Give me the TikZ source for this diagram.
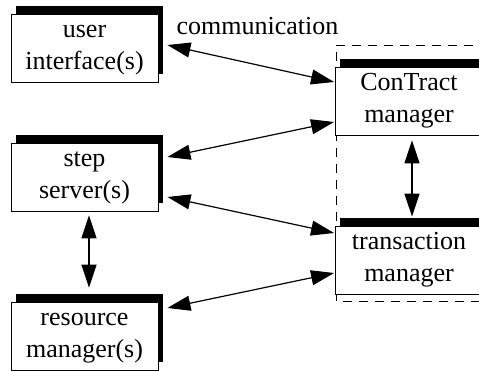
\documentclass[tikz,border=0pt]{standalone}
\usepackage{fontspec}
\setmainfont{Liberation Serif}
\usetikzlibrary{arrows.meta,shadows}
\begin{document}
\begin{tikzpicture}[x=1pt, y=1pt,
  modbox/.style={draw, fill=white, line width=0.9pt, minimum width=147pt, minimum height=68pt,
    align=center, inner sep=0pt, font=\fontsize{26}{32}\selectfont,
    text height=50pt, text depth=6pt,
    drop shadow={shadow xshift=4.5pt, shadow yshift=8pt, fill=black, opacity=1}},
  link/.style={line width=1.2pt, {Triangle[length=23pt,width=15pt]}-{Triangle[length=23pt,width=15pt]}}]
\clip (0,0) rectangle (479,371);
\draw[line width=0.9pt, dash pattern=on 9pt off 7pt] (336,70) rectangle (520,326);
\node[modbox] (ui) at (84.5,323){user\\interface(s)};
\node[modbox] (step) at (84.5,194){step\\server(s)};
\node[modbox] (res) at (84.5,35){resource\\manager(s)};
\node[modbox] (ctr) at (409,270){ConTract\\manager};
\node[modbox] (tm) at (409,111){transaction\\manager};
\node[anchor=base, inner sep=0pt, font=\fontsize{26}{32}\selectfont] (comm) at (257.5,336){communication};
\draw[link] ([shift={(9,3)}]ui.east) -- ([shift={(-1,19)}]ctr.west);
\draw[link] ([shift={(9,20)}]step.east) -- ([shift={(-1,-21)}]ctr.west);
\draw[link] ([shift={(9,-20)}]step.east) -- ([shift={(-1,27)}]tm.west);
\draw[link] ([shift={(9,28)}]res.east) -- ([shift={(-1,-13)}]tm.west);
\draw[link] ([shift={(4.5,-4)}]step.south) -- ([shift={(4.5,14)}]res.north);
\draw[link] ([shift={(3,-5)}]ctr.south) -- ([shift={(3,9)}]tm.north);
\end{tikzpicture}
\end{document}
